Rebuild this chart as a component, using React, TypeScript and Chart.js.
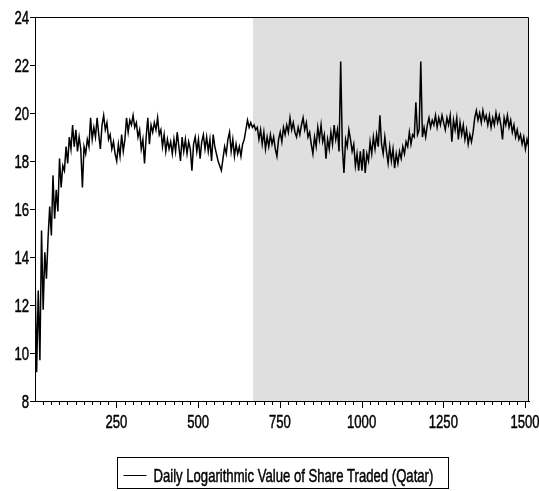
import React, { useEffect, useRef } from 'react';
import { Chart, registerables } from 'chart.js';

Chart.register(...registerables);

const SERIES_LABEL = 'Daily Logarithmic Value of Share Traded (Qatar)';
const FIRST_OBS = 1;
const OBS_STEP = 5;
const SHADE_START = 668;
const X_MIN = 1;
const X_MAX = 1512;
const X_MAJOR = 250;
const X_MINOR = 25;
const Y_MIN = 8;
const Y_MAX = 24;
const Y_STEP = 2;

// values read at every 5th observation (1, 6, 11, ...)
const values: number[] = [
  13.4, 9.2, 12.6, 9.7, 15.1, 11.8, 14.2, 13.1, 14.8, 16.1, 14.9, 17.4, 15.6, 16.8, 15.9, 18.1, 16.9, 17.8, 17.6, 18.6,
  17.9, 19.0, 18.5, 19.5, 18.6, 19.3, 18.4, 19.0, 18.5, 16.9, 18.6, 18.3, 18.9, 18.6, 19.8, 18.9, 19.4, 19.0, 19.8, 19.1,
  18.5, 19.5, 19.9, 19.3, 19.6, 18.9, 19.1, 18.5, 18.8, 18.3, 18.0, 18.7, 18.2, 19.1, 18.4, 18.9, 19.8, 19.2, 19.7, 19.5,
  19.9, 19.4, 19.6, 19.0, 19.3, 18.5, 18.9, 17.9, 19.0, 19.8, 18.7, 19.5, 19.2, 19.6, 19.3, 19.8, 19.1, 19.3, 18.6, 19.1,
  18.4, 18.9, 18.5, 18.8, 18.3, 18.9, 18.4, 19.2, 18.6, 18.0, 19.0, 18.4, 18.9, 18.3, 18.8, 18.5, 17.6, 18.7, 19.0, 18.4,
  18.9, 18.1, 18.8, 19.1, 18.5, 19.0, 18.4, 18.9, 18.0, 19.1, 18.6, 18.3, 18.0, 17.8, 17.6, 18.1, 18.6, 18.3, 18.9, 19.2,
  18.4, 18.9, 18.2, 18.7, 18.3, 18.6, 18.2, 18.7, 18.9, 19.3, 19.7, 19.4, 19.6, 19.4, 19.5, 19.3, 19.4, 18.9, 19.3, 18.7,
  19.2, 18.5, 19.0, 18.6, 19.1, 18.7, 19.0, 18.5, 18.2, 18.9, 19.2, 18.8, 19.4, 19.1, 19.5, 19.2, 19.8, 19.3, 19.6, 19.2,
  19.0, 19.4, 19.1, 19.5, 19.8, 19.3, 19.6, 19.0, 19.2, 18.7, 18.3, 19.0, 18.6, 19.4, 18.9, 19.5, 18.8, 19.1, 18.1, 18.9,
  18.5, 19.2, 18.7, 19.5, 18.9, 19.3, 18.4, 22.15, 18.6, 17.5, 18.9, 18.6, 19.3, 18.9, 18.4, 18.7, 17.8, 18.3, 17.6, 18.4,
  17.6, 18.5, 17.5, 18.3, 18.0, 18.8, 18.3, 19.0, 18.5, 19.1, 18.6, 19.9, 18.7, 18.3, 19.0, 18.4, 17.9, 18.6, 18.0, 18.5,
  17.7, 18.3, 17.9, 18.4, 18.1, 18.6, 18.3, 18.8, 18.6, 19.2, 18.7, 19.1, 19.0, 20.45, 19.1, 19.3, 22.15, 19.0, 19.4, 19.0,
  19.5, 19.8, 19.4, 19.7, 19.5, 19.9, 19.4, 19.8, 19.5, 19.9, 19.6, 19.3, 19.8, 19.5, 19.9, 18.8, 19.7, 19.3, 19.8, 18.9,
  19.6, 19.1, 19.5, 18.9, 19.3, 18.7, 19.1, 18.8, 19.2, 19.8, 20.1, 19.7, 20.0, 19.6, 20.1, 19.7, 19.9, 19.5, 19.9, 19.4,
  19.8, 19.5, 20.0, 19.6, 19.9, 19.5, 18.9, 19.8, 19.5, 19.9, 19.4, 19.7, 19.2, 19.5, 19.0, 19.3, 18.9, 19.1, 18.7, 19.0,
  18.5, 18.9, 18.6,
];

const FONT = "'Liberation Sans', Arimo, 'DejaVu Sans', sans-serif";
const FONT_SIZE = 19;
const NARROW = 0.69; // horizontal squeeze to imitate a narrow face

function narrowText(ctx: CanvasRenderingContext2D, text: string, x: number, y: number, align: 'left' | 'right' | 'center') {
  ctx.font = `${FONT_SIZE}px ${FONT}`;
  const w = ctx.measureText(text).width * NARROW;
  let x0 = x;
  if (align === 'right') x0 = x - w;
  else if (align === 'center') x0 = x - w / 2;
  ctx.save();
  ctx.translate(x0, y);
  ctx.scale(NARROW, 1);
  ctx.textAlign = 'left';
  ctx.textBaseline = 'alphabetic';
  ctx.fillStyle = '#000';
  ctx.strokeStyle = '#000';
  ctx.lineWidth = 0.5;
  ctx.fillText(text, 0, 0);
  ctx.strokeText(text, 0, 0);
  ctx.restore();
  return w;
}

const shadePlugin = {
  id: 'shade',
  beforeDatasetsDraw(chart: any) {
    const { ctx, chartArea } = chart;
    const xs = chart.scales.x;
    const x0 = Math.round(xs.getPixelForValue(SHADE_START));
    ctx.save();
    ctx.fillStyle = '#dfdfdf';
    ctx.fillRect(x0, chartArea.top, chartArea.right - x0, chartArea.bottom - chartArea.top);
    ctx.restore();
  },
};

const axesPlugin = {
  id: 'eviewsAxes',
  afterDraw(chart: any) {
    const { ctx, chartArea } = chart;
    const xs = chart.scales.x;
    const ys = chart.scales.y;
    const L = Math.round(chartArea.left);
    const R = Math.round(chartArea.right);
    const T = Math.round(chartArea.top);
    const B = Math.round(chartArea.bottom);
    ctx.save();
    ctx.strokeStyle = '#000';
    ctx.fillStyle = '#000';
    ctx.lineWidth = 1;
    // frame top + right
    ctx.beginPath();
    ctx.moveTo(L + 0.5, T + 0.5);
    ctx.lineTo(R - 0.5, T + 0.5);
    ctx.lineTo(R - 0.5, B);
    ctx.stroke();
    // x ticks + labels
    ctx.beginPath();
    xs.ticks.forEach((t: any) => {
      const px = Math.round(xs.getPixelForValue(t.value)) + 0.5;
      const major = t.value % X_MAJOR === 0;
      ctx.moveTo(px, B);
      ctx.lineTo(px, B + (major ? 7 : 4));
    });
    ctx.stroke();
    xs.ticks.forEach((t: any) => {
      if (t.value % X_MAJOR !== 0) return;
      narrowText(ctx, String(t.value), xs.getPixelForValue(t.value), B + 27, 'center');
    });
    // y ticks + labels
    ctx.beginPath();
    ys.ticks.forEach((t: any) => {
      const py = Math.round(ys.getPixelForValue(t.value)) + 0.5;
      ctx.moveTo(L, py);
      ctx.lineTo(L - 5, py);
    });
    ctx.stroke();
    ys.ticks.forEach((t: any) => {
      narrowText(ctx, String(t.value), L - 6, ys.getPixelForValue(t.value) + 6.5, 'right');
    });
    ctx.restore();
  },
};

const legendPlugin = {
  id: 'boxLegend',
  afterDraw(chart: any) {
    const { ctx, chartArea } = chart;
    ctx.save();
    ctx.font = `${FONT_SIZE}px ${FONT}`;
    const tw = ctx.measureText(SERIES_LABEL).width * NARROW;
    const w = Math.round(36 + tw + 15);
    const cx = (chartArea.left + chartArea.right) / 2;
    const left = Math.round(cx - w / 2) + 0.5;
    const top = 457.5;
    const h = 31;
    ctx.strokeStyle = '#000';
    ctx.fillStyle = '#000';
    ctx.lineWidth = 1;
    ctx.strokeRect(left, top, w, h);
    ctx.beginPath();
    ctx.moveTo(left + 6, 475.5);
    ctx.lineTo(left + 29, 475.5);
    ctx.stroke();
    narrowText(ctx, SERIES_LABEL, left + 36, 481.5, 'left');
    ctx.restore();
  },
};

export default function App() {
  const ref = useRef<HTMLCanvasElement | null>(null);
  useEffect(() => {
    if (!ref.current) return;
    const data = values.map((v, i) => ({ x: FIRST_OBS + i * OBS_STEP, y: v }));
    const chart = new Chart(ref.current, {
      type: 'line',
      data: {
        datasets: [
          {
            label: SERIES_LABEL,
            data,
            borderColor: '#000',
            borderWidth: 1.5,
            pointRadius: 0,
            tension: 0,
            fill: false,
          },
        ],
      },
      options: {
        animation: false,
        responsive: false,
        events: [],
        layout: { padding: { left: 0, top: 17, right: 10, bottom: 50 } },
        plugins: { legend: { display: false }, tooltip: { enabled: false }, title: { display: false } },
        scales: {
          x: {
            type: 'linear',
            min: X_MIN,
            max: X_MAX,
            afterBuildTicks: (s: any) => {
              s.ticks = s.ticks.filter((t: any) => t.value % X_MINOR === 0);
            },
            afterFit: (s: any) => {
              s.height = 40;
              s.paddingLeft = 0;
              s.paddingRight = 0;
            },
            ticks: { stepSize: X_MINOR, includeBounds: false, autoSkip: false, display: false },
            grid: { drawOnChartArea: false, drawTicks: false },
            border: { display: true, color: '#000', width: 1 },
          },
          y: {
            min: Y_MIN,
            max: Y_MAX,
            afterFit: (s: any) => {
              s.width = 35;
              s.paddingTop = 0;
              s.paddingBottom = 0;
            },
            ticks: { stepSize: Y_STEP, display: false },
            grid: { drawOnChartArea: false, drawTicks: false },
            border: { display: true, color: '#000', width: 1 },
          },
        },
      },
      plugins: [shadePlugin, axesPlugin, legendPlugin],
    });
    return () => chart.destroy();
  }, []);
  return (
    <div style={{ position: 'absolute', left: 0, top: 0, width: 539, height: 491, background: '#fff' }}>
      <canvas ref={ref} width={539} height={491} style={{ display: 'block' }} />
    </div>
  );
}
